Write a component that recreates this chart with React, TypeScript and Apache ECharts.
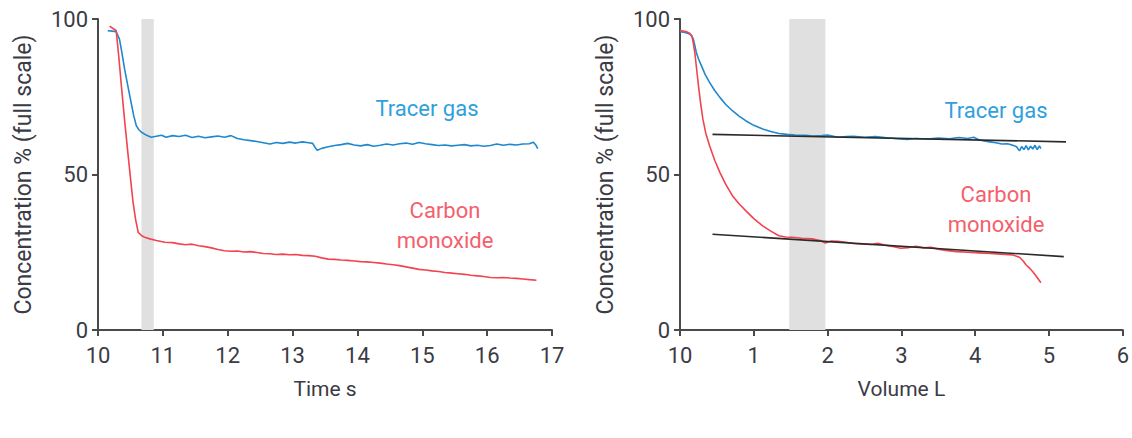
import React, { useEffect, useRef } from "react";
import * as echarts from "echarts";

// ---- Left panel: concentration vs time ----
const timeTicks = [10, 11, 12, 13, 14, 15, 16, 17];
const tracerTime = [
  10.15, 10.22, 10.28, 10.33, 10.37, 10.41, 10.46, 10.51, 10.55, 10.59, 10.63, 10.67, 10.75, 10.82,
  10.9, 10.98, 11.05, 11.15, 11.25, 11.35, 11.45, 11.55, 11.65, 11.75, 11.85, 11.95, 12.05, 12.15, 12.25,
  12.35, 12.45, 12.55, 12.65, 12.75, 12.85, 12.95, 13.05, 13.15, 13.25, 13.31, 13.35, 13.38, 13.45, 13.55,
  13.65, 13.75, 13.85, 13.95, 14.05, 14.15, 14.25, 14.35, 14.45, 14.55, 14.65, 14.75, 14.85, 14.95, 15.05,
  15.15, 15.25, 15.35, 15.45, 15.55, 15.65, 15.75, 15.85, 15.95, 16.05, 16.15, 16.25, 16.35, 16.45, 16.55,
  16.65, 16.71, 16.75, 16.78,
];
const tracerTimeValues = [
  96.2, 96.1, 95.9, 93.6, 89.0, 83.9, 78.5, 73.2, 69.0, 65.7, 64.4, 63.6, 62.6, 62.0,
  62.3, 62.6, 62.0, 62.5, 62.2, 62.6, 61.9, 62.3, 61.8, 62.1, 62.4, 62.0, 62.5, 61.6, 61.2,
  60.9, 60.6, 60.2, 59.8, 60.3, 60.0, 60.4, 60.1, 60.5, 60.2, 60.0, 58.6, 57.8, 58.4, 58.9,
  59.3, 59.6, 60.0, 59.5, 59.2, 59.6, 59.1, 59.4, 59.8, 59.5, 59.9, 60.1, 59.7, 60.3, 59.9,
  59.6, 59.3, 59.5, 59.2, 59.4, 59.6, 59.2, 59.4, 59.1, 59.3, 59.8, 59.4, 59.7, 59.5, 59.8,
  59.9, 60.4, 59.5, 58.3,
];
const coTime = [
  10.18, 10.22, 10.28, 10.32, 10.36, 10.41, 10.46, 10.5, 10.54, 10.58, 10.62, 10.67, 10.72, 10.8, 10.9,
  11.03, 11.15, 11.25, 11.35, 11.45, 11.55, 11.65, 11.75, 11.85, 11.95, 12.05, 12.15, 12.25, 12.35,
  12.45, 12.55, 12.65, 12.75, 12.85, 12.95, 13.05, 13.15, 13.25, 13.35, 13.45, 13.55, 13.65, 13.75, 13.85,
  13.95, 14.05, 14.15, 14.25, 14.35, 14.45, 14.55, 14.65, 14.75, 14.85, 14.95, 15.05, 15.15, 15.25, 15.35,
  15.45, 15.55, 15.65, 15.75, 15.85, 15.95, 16.05, 16.15, 16.25, 16.35, 16.45, 16.55, 16.65, 16.76,
];
const coTimeValues = [
  97.7, 97.1, 96.3, 88.0, 78.6, 67.5, 57.1, 49.0, 41.1, 35.5, 31.4, 30.4, 29.8, 29.3, 28.8,
  28.2, 28.1, 27.7, 27.4, 27.6, 27.1, 26.8, 26.4, 25.9, 25.5, 25.3, 25.4, 25.1, 25.2,
  24.9, 24.6, 24.5, 24.3, 24.4, 24.2, 24.3, 24.0, 23.9, 23.7, 23.2, 22.8, 22.7, 22.5, 22.4,
  22.2, 22.0, 21.9, 21.7, 21.5, 21.2, 21.0, 20.7, 20.3, 19.9, 19.5, 19.3, 19.0, 18.8, 18.5,
  18.3, 18.1, 17.9, 17.6, 17.4, 17.2, 16.9, 16.8, 16.9, 16.7, 16.6, 16.4, 16.2, 16.0,
];
const timeBand = [10.67, 10.86];

// ---- Right panel: concentration vs volume ----
const volumeTicks = [0, 1, 2, 3, 4, 5, 6];
const tracerVolume = [
  0.0, 0.07, 0.13, 0.16, 0.18, 0.2, 0.22, 0.25, 0.29, 0.34, 0.4, 0.47, 0.54, 0.62, 0.71, 0.8, 0.89, 1.0,
  1.12, 1.23, 1.34, 1.45, 1.56, 1.7, 1.8, 1.92, 2.0, 2.14, 2.25, 2.35, 2.5, 2.65, 2.8, 2.95, 3.08, 3.2,
  3.35, 3.5, 3.65, 3.78, 3.9, 3.98, 4.05, 4.12, 4.2, 4.28, 4.36, 4.44, 4.52, 4.56, 4.6, 4.63, 4.66, 4.69,
  4.72, 4.75, 4.78, 4.81, 4.84, 4.87, 4.89,
];
const tracerVolumeValues = [
  95.9, 95.7, 95.2, 94.5, 93.6, 91.6, 89.3, 87.2, 85.0, 82.2, 79.6, 77.0, 74.8, 72.5, 70.5, 68.8, 67.3, 65.8,
  64.6, 63.8, 63.2, 62.9, 62.7, 62.6, 62.4, 62.5, 62.7, 62.0, 62.2, 62.3, 62.0, 62.2, 61.8, 61.5, 61.3, 61.6,
  61.4, 61.7, 61.5, 61.9, 61.6, 62.0, 61.2, 60.8, 60.5, 60.2, 59.8, 59.9, 59.3, 58.9, 57.6, 59.0, 58.0, 59.3,
  57.9, 59.1, 58.2, 59.4, 58.0, 59.2, 58.3,
];
const coVolume = [
  0.0, 0.08, 0.13, 0.16, 0.18, 0.2, 0.225, 0.25, 0.28, 0.31, 0.35, 0.4, 0.47, 0.54, 0.62, 0.71, 0.8, 0.89,
  1.0, 1.12, 1.23, 1.34, 1.43, 1.52, 1.65, 1.79, 1.9, 1.97, 2.05, 2.14, 2.25, 2.35, 2.5, 2.59, 2.68, 2.8,
  2.9, 2.99, 3.1, 3.2, 3.3, 3.4, 3.5, 3.6, 3.75, 3.9, 4.05, 4.2, 4.35, 4.51, 4.6, 4.65, 4.69, 4.74, 4.78,
  4.83, 4.89,
];
const coVolumeValues = [
  96.3, 96.0, 95.4, 94.6, 92.3, 89.3, 84.0, 78.6, 72.8, 67.8, 63.2, 59.3, 54.6, 50.7, 46.8, 43.2, 40.6, 38.4,
  35.8, 33.5, 31.8, 30.3, 29.9, 29.8, 29.5, 29.3, 28.8, 28.0, 28.6, 28.5, 28.2, 27.8, 27.6, 27.5, 27.9, 27.2,
  26.8, 26.3, 26.5, 26.9, 26.4, 26.6, 26.0, 25.6, 25.2, 25.0, 24.8, 24.6, 24.4, 24.1, 23.4, 22.2, 20.9, 19.8,
  18.7, 17.2, 15.2,
];
const tracerFitVolume = [0.44, 5.23];
const tracerFitValues = [62.9, 60.5];
const coFitVolume = [0.44, 5.2];
const coFitValues = [30.8, 23.6];
const volumeBand = [1.48, 1.97];

const yTicks = [0, 50, 100];

const zip = (xs: number[], ys: number[]) => xs.map((x, i) => [x, ys[i]]);

const BLUE = "#1f88cf";
const RED = "#f2434f";
const BLUE_TEXT = "#2fa0dd";
const RED_TEXT = "#f4606b";
const AXIS = "#4a4a4a";
const TEXT = "#3b3b45";
const FONT = "Roboto, 'DejaVu Sans', sans-serif";

export default function App() {
  const ref = useRef<HTMLDivElement>(null);

  useEffect(() => {
    if (!ref.current) return;
    const chart = echarts.init(ref.current, undefined, { renderer: "svg" });

    const axisCommon = {
      axisLine: { show: true, lineStyle: { color: AXIS, width: 2 } },
      axisTick: { show: true, inside: false, length: 6, lineStyle: { color: AXIS, width: 2 } },
      splitLine: { show: false },
      axisLabel: { color: TEXT, fontSize: 22, fontFamily: FONT },
      nameTextStyle: { color: TEXT, fontSize: 21, fontFamily: FONT },
    };

    const xAxis = (idx: number, ticks: number[], name: string, zeroLabel: string) => ({
      ...axisCommon,
      type: "value",
      gridIndex: idx,
      min: ticks[0],
      max: ticks[ticks.length - 1],
      interval: 1,
      name,
      nameLocation: "middle",
      nameGap: 48,
      axisLabel: {
        ...axisCommon.axisLabel,
        margin: 14,
        formatter: (v: number) => (v === ticks[0] ? zeroLabel : String(v)),
      },
    });

    const yAxis = (idx: number) => ({
      ...axisCommon,
      type: "value",
      gridIndex: idx,
      min: yTicks[0],
      max: yTicks[yTicks.length - 1],
      interval: 50,
      name: "Concentration % (full scale)",
      nameLocation: "middle",
      nameGap: 63,
      nameTextStyle: { color: TEXT, fontSize: 23, fontFamily: FONT },
      axisLabel: { ...axisCommon.axisLabel, margin: 10 },
    });

    const band = (range: number[]) => ({
      silent: true,
      itemStyle: { color: "#e0e0e0" },
      data: [[{ xAxis: range[0] }, { xAxis: range[1] }]],
    });

    const lineSeries = (name: string, idx: number, data: number[][], color: string, width = 1.6) => ({
      name,
      type: "line",
      xAxisIndex: idx,
      yAxisIndex: idx,
      data,
      showSymbol: false,
      symbol: "none",
      lineStyle: { color, width },
      z: 3,
    });

    const text = (t: string, x: number, y: number, color: string) => ({
      type: "text",
      x,
      y,
      style: {
        text: t,
        fill: color,
        font: `22px ${FONT}`,
        textAlign: "center",
        textVerticalAlign: "middle",
      },
    });

    chart.setOption({
      animation: false,
      grid: [
        { left: 98, top: 19, width: 454, height: 311, containLabel: false },
        { left: 680, top: 19, width: 448, height: 311, containLabel: false },
      ],
      xAxis: [xAxis(0, timeTicks, "Time s", "10"), xAxis(1, volumeTicks, "Volume L", "10")],
      yAxis: [yAxis(0), yAxis(1)],
      series: [
        { ...lineSeries("Band time", 0, [], "#e0e0e0"), markArea: band(timeBand), z: 1 },
        lineSeries("Tracer gas", 0, zip(tracerTime, tracerTimeValues), BLUE),
        lineSeries("Carbon monoxide", 0, zip(coTime, coTimeValues), RED),
        { ...lineSeries("Band volume", 1, [], "#e0e0e0"), markArea: band(volumeBand), z: 1 },
        lineSeries("Tracer gas (volume)", 1, zip(tracerVolume, tracerVolumeValues), BLUE),
        lineSeries("Carbon monoxide (volume)", 1, zip(coVolume, coVolumeValues), RED),
        { ...lineSeries("Tracer fit", 1, zip(tracerFitVolume, tracerFitValues), "#2a2a2a", 1.6), z: 4 },
        { ...lineSeries("CO fit", 1, zip(coFitVolume, coFitValues), "#2a2a2a", 1.6), z: 4 },
      ],
      graphic: [
        text("Tracer gas", 427, 108, BLUE_TEXT),
        text("Carbon", 445, 210, RED_TEXT),
        text("monoxide", 445, 240, RED_TEXT),
        text("Tracer gas", 996, 110, BLUE_TEXT),
        text("Carbon", 996, 194, RED_TEXT),
        text("monoxide", 996, 224, RED_TEXT),
      ],
    });

    return () => chart.dispose();
  }, []);

  return (
    <div
      ref={ref}
      style={{ position: "fixed", left: 0, top: 0, width: 1132, height: 438, background: "#fff" }}
    />
  );
}
